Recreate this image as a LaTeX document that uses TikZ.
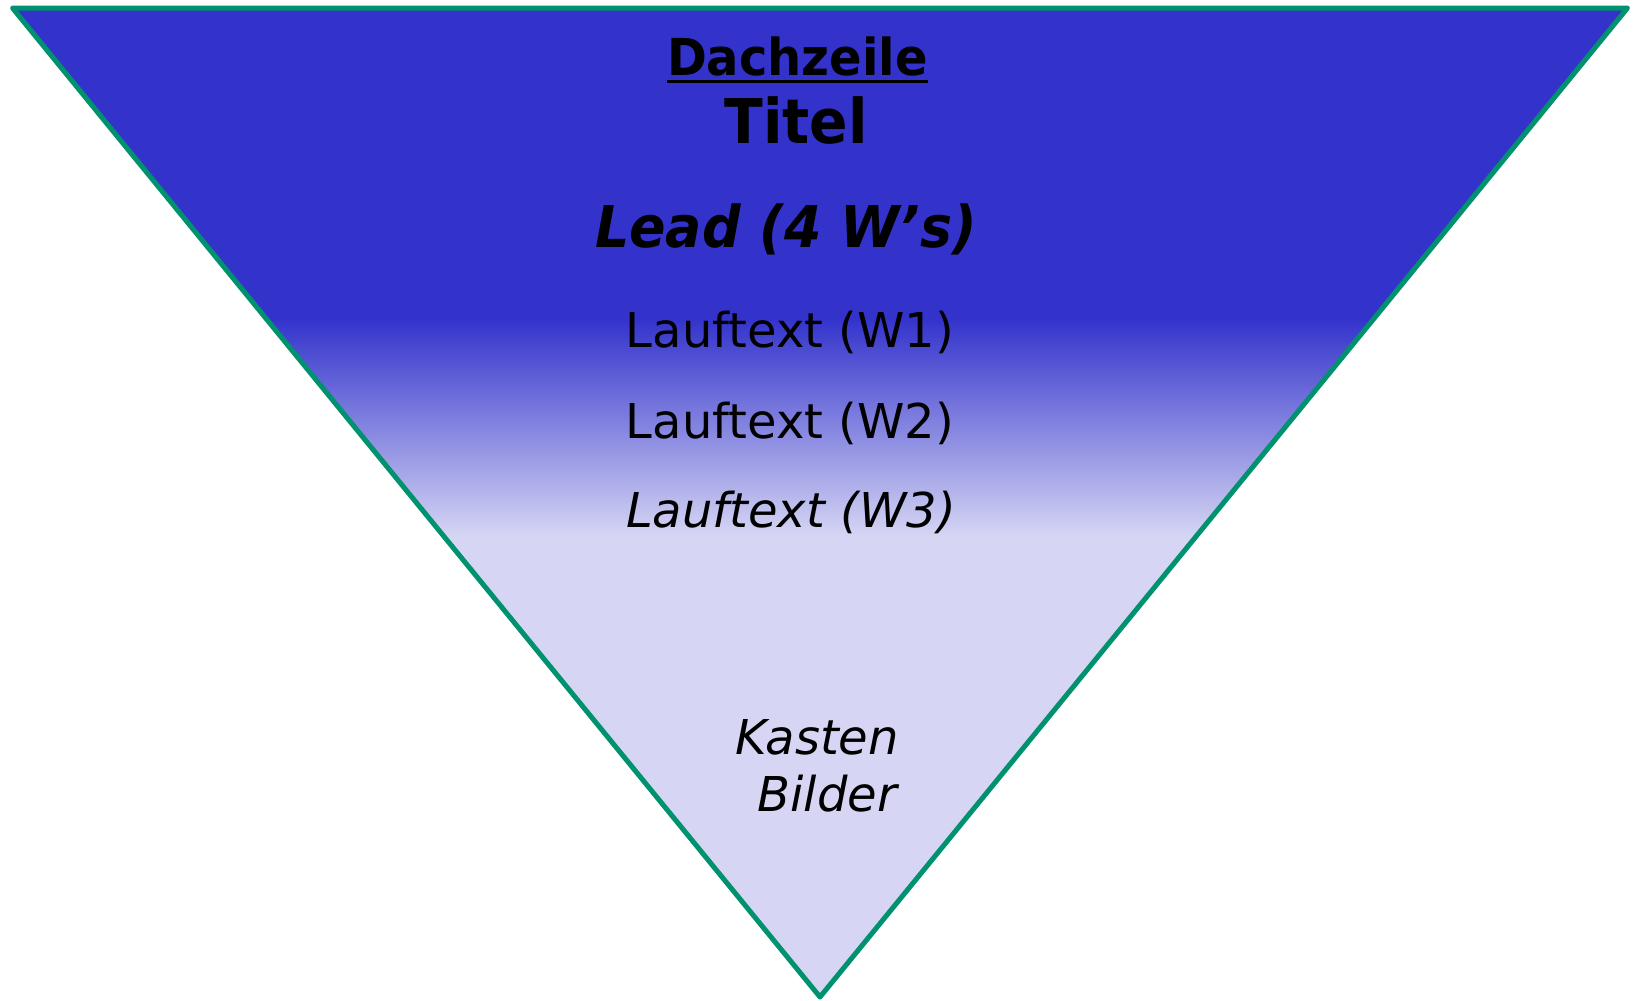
\documentclass[tikz,border=0pt]{standalone}
\usepackage{fontspec}
\setmainfont{DejaVu Sans}
\definecolor{topblue}{RGB}{51,51,204}
\definecolor{lightblue}{RGB}{214,214,244}
\definecolor{edgegreen}{RGB}{0,145,110}
\begin{document}
\begin{tikzpicture}[x=1pt,y=-1pt,
  txt/.style={inner sep=0pt, anchor=base, text=black},
  body/.style={txt, font=\fontsize{48}{56}\selectfont}]
\useasboundingbox (0,0) rectangle (1636,1001);
\coordinate (tl) at (12.5,8);
\coordinate (tr) at (1627.5,8);
\coordinate (ap) at (820,997);
\begin{scope}
  \clip (tl) -- (tr) -- (ap) -- cycle;
  \fill[topblue] (0,0) rectangle (1636,318);
  \shade[top color=topblue, bottom color=lightblue] (0,318) rectangle (1636,537);
  \fill[lightblue] (0,537) rectangle (1636,1001);
\end{scope}
\draw[edgegreen, line width=5pt, line join=round] (tl) -- (tr) -- (ap) -- cycle;
\node[txt, font=\fontsize{49}{56}\selectfont\bfseries] (dach) at (797.5,75) {\scalebox{0.98}[1.04]{Dachzeile}};
\draw[line width=3.2pt] ([yshift=-6.5pt]dach.base west) -- ([yshift=-6.5pt]dach.base east);
\node[txt, font=\fontsize{61.7}{70}\selectfont\bfseries] (titel) at (796,143) {\scalebox{0.92}[1]{Titel}};
\node[txt, font=\fontsize{57.6}{66}\selectfont\bfseries\itshape] (lead) at (786,247) {\scalebox{0.935}[1]{Lead (4 W’s)}};
\node[body] (w1) at (790,347) {Lauftext (W1)};
\node[body] (w2) at (790,438) {Lauftext (W2)};
\node[body, font=\fontsize{48}{56}\selectfont\itshape] (w3) at (791,527) {Lauftext (W3)};
\node[body, anchor=base east, font=\fontsize{48}{56}\selectfont\itshape] (kasten) at (899,754) {Kasten};
\node[body, anchor=base east, font=\fontsize{48}{56}\selectfont\itshape] (bilder) at (897,811) {Bilder};
\end{tikzpicture}
\end{document}
